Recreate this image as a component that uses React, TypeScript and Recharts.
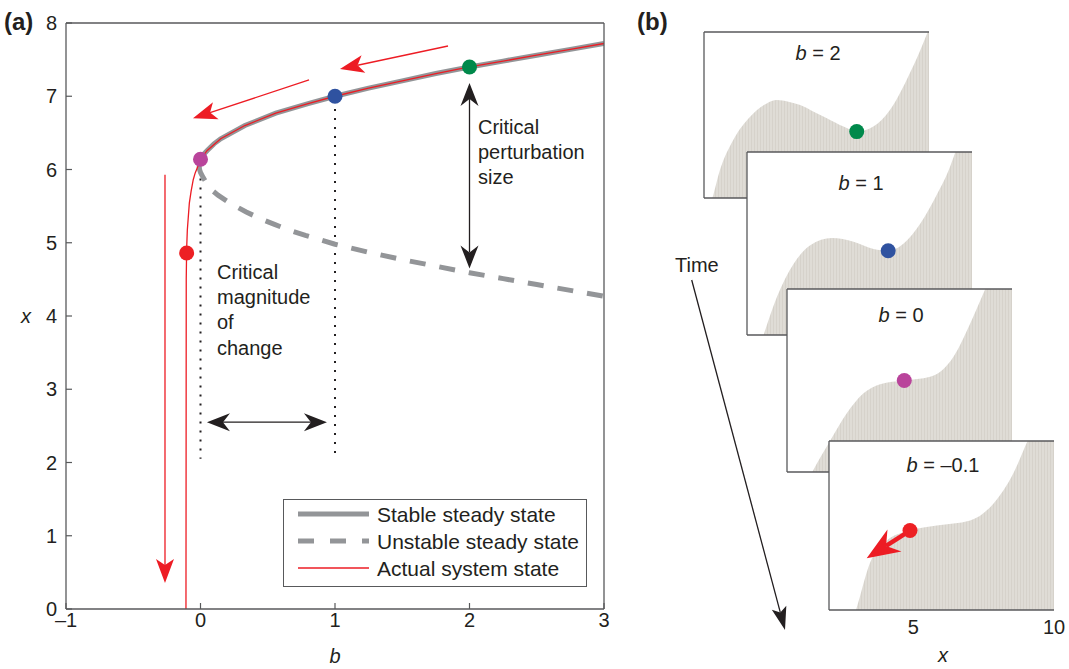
import React from 'react';
import {
  Area,
  Cell,
  ComposedChart,
  Legend,
  Line,
  ReferenceLine,
  Scatter,
  XAxis,
  YAxis,
} from 'recharts';

const FONT = 'Arial, "Liberation Sans", Helvetica, sans-serif';
const GRAY = '#939598';
const RED = '#ed1c24';
const INK = '#231f20';
const AXIS = '#58595b';

// ---- panel (a): bifurcation diagram ----
const bTicks = [-1, 0, 1, 2, 3];
const xTicks = [0, 1, 2, 3, 4, 5, 6, 7, 8];

const stableB = [-0.01, -0.007, 0, 0.02, 0.05, 0.1, 0.15, 0.33, 0.56, 0.8, 1, 1.25, 1.5, 1.75, 2, 2.25, 2.5, 2.75, 3];
const stableX = [6.05, 6.1, 6.14, 6.2, 6.26, 6.35, 6.42, 6.6, 6.77, 6.9, 7.0, 7.11, 7.21, 7.31, 7.4, 7.48, 7.56, 7.64, 7.72];

const unstableB = [-0.01, -0.007, 0, 0.02, 0.05, 0.09, 0.13, 0.22, 0.34, 0.455, 0.55, 0.665, 0.78, 0.89, 1, 1.25, 1.5, 1.75, 2, 2.25, 2.5, 2.75, 3];
const unstableX = [6.05, 6.0, 5.96, 5.89, 5.8, 5.71, 5.65, 5.54, 5.42, 5.32, 5.25, 5.17, 5.1, 5.04, 4.98, 4.87, 4.77, 4.68, 4.59, 4.51, 4.43, 4.35, 4.27];

const actualB = [3, 2.75, 2.5, 2.25, 2, 1.75, 1.5, 1.25, 1, 0.8, 0.56, 0.33, 0.15, 0.05, 0, -0.02, -0.04, -0.054, -0.07, -0.083, -0.098, -0.103, -0.106, -0.108];
const actualX = [7.72, 7.64, 7.56, 7.48, 7.4, 7.31, 7.21, 7.11, 7.0, 6.9, 6.77, 6.6, 6.42, 6.26, 6.14, 6.04, 5.95, 5.86, 5.7, 5.54, 5.17, 4.92, 4.5, 0];

const markerB = [2, 1, 0, -0.103];
const markerX = [7.4, 7.0, 6.14, 4.86];
const markerColors = ['#00894b', '#2f52a0', '#b9449b', '#ed2024'];

// guides: [b, xTop, xBottom]
const guides = [
  [0, 6.0, 2.05],
  [1, 6.95, 2.05],
];
// arrows: [b1, x1, b2, x2]
const redArrows = [
  [1.84, 7.686, 1.037, 7.372],
  [0.807, 7.222, -0.056, 6.7],
  [-0.264, 5.93, -0.264, 0.355],
];
const blackArrows = [
  [0.048, 2.55, 0.94, 2.55],
  [2, 4.65, 2, 7.18],
];

const legendItems = ['Stable steady state', 'Unstable steady state', 'Actual system state'];

// ---- panel (b): potential landscapes ----
const potX1 = [2, 2.3, 2.57, 3.04, 3.64, 4.23, 4.59, 5.0, 5.42, 5.9, 6.37, 6.96, 7.43, 8.02, 8.61, 9.2, 9.69, 10];
const potV1 = [-0.15, 0, 0.17, 0.35, 0.49, 0.57, 0.59, 0.58, 0.56, 0.52, 0.48, 0.43, 0.4, 0.43, 0.53, 0.71, 0.89, 1.02];
const potX2 = [2, 2.59, 3.07, 3.66, 4.25, 5.02, 5.79, 6.5, 7.02, 7.57, 8.17, 8.76, 9.17, 9.41, 9.7, 10];
const potV2 = [-0.3, 0, 0.21, 0.39, 0.49, 0.53, 0.51, 0.47, 0.46, 0.5, 0.61, 0.77, 0.9, 1.0, 1.12, 1.25];
const potX3 = [2, 2.9, 3.53, 4.12, 4.72, 5.31, 6.17, 7.09, 7.92, 8.51, 9.05, 9.5, 10];
const potV3 = [-0.3, 0, 0.17, 0.32, 0.43, 0.48, 0.5, 0.52, 0.63, 0.81, 1.0, 1.15, 1.3];
const potX4 = [2, 2.96, 3.46, 4.05, 4.88, 5.83, 7.02, 7.85, 8.56, 9.06, 9.5, 10];
const potV4 = [-0.4, 0, 0.28, 0.41, 0.47, 0.5, 0.53, 0.63, 0.81, 1.0, 1.15, 1.3];

const boxTitles = ['2', '1', '0', '\u20130.1'];
const ballX = [7.43, 7.02, 6.17, 4.88];
const ballV = [0.4, 0.46, 0.5, 0.47];
const kickArrow = [4.88, 0.47, 3.34, 0.306];
const potTicks = [5, 10];

const zip = (a: number[], b: number[], ka: string, kb: string) =>
  a.map((v, i) => ({ [ka]: v, [kb]: b[i] }));

type ArrowStyle = { color: string; width: number; len: number; half: number; notch: number; both?: boolean };

function headPoints(fx: number, fy: number, tx: number, ty: number, s: ArrowStyle) {
  const d = Math.hypot(tx - fx, ty - fy) || 1;
  const ux = (tx - fx) / d;
  const uy = (ty - fy) / d;
  const nx = -uy;
  const ny = ux;
  const bx = tx - ux * s.len;
  const by = ty - uy * s.len;
  const mx = tx - ux * (s.len - s.notch);
  const my = ty - uy * (s.len - s.notch);
  return `${tx},${ty} ${bx + nx * s.half},${by + ny * s.half} ${mx},${my} ${bx - nx * s.half},${by - ny * s.half}`;
}

const arrowShape = (s: ArrowStyle) => (p: any) => {
  const { x1, y1, x2, y2 } = p;
  const d = Math.hypot(x2 - x1, y2 - y1) || 1;
  const ux = (x2 - x1) / d;
  const uy = (y2 - y1) / d;
  const back = s.len - s.notch;
  const sx = s.both ? x1 + ux * back : x1;
  const sy = s.both ? y1 + uy * back : y1;
  return (
    <g>
      <line x1={sx} y1={sy} x2={x2 - ux * back} y2={y2 - uy * back} stroke={s.color} strokeWidth={s.width} />
      <polygon points={headPoints(x1, y1, x2, y2, s)} fill={s.color} />
      {s.both && <polygon points={headPoints(x2, y2, x1, y1, s)} fill={s.color} />}
    </g>
  );
};

const redArrow = arrowShape({ color: RED, width: 1.3, len: 24, half: 9, notch: 6 });
const blackArrow = arrowShape({ color: INK, width: 1.3, len: 23, half: 9, notch: 7, both: true });
const kickShape = arrowShape({ color: RED, width: 4.5, len: 33, half: 13, notch: 10 });

const dotShape = (r: number) => (p: any) => <circle cx={p.cx} cy={p.cy} r={r} fill={p.fill} />;

const fmtB = (v: number) => (v < 0 ? `\u2013${Math.abs(v)}` : `${v}`);

const axisLine = { stroke: AXIS, strokeWidth: 1.3 };
const tickLine = { stroke: AXIS, strokeWidth: 1.2 };

function Txt({ x, y, children, size = 20, italic = false, bold = false, center = false }: any) {
  return (
    <div
      style={{
        position: 'absolute',
        left: x,
        top: y,
        transform: `translate(${center ? '-50%' : '0'}, -50%)`,
        fontSize: size,
        fontStyle: italic ? 'italic' : 'normal',
        fontWeight: bold ? 700 : 400,
        lineHeight: 1,
        whiteSpace: 'nowrap',
        color: INK,
      }}
    >
      {children}
    </div>
  );
}

function LegendBox() {
  return (
    <div style={{ position: 'relative', width: 304, height: 88, border: `1px solid ${AXIS}`, boxSizing: 'border-box', background: '#fff', fontFamily: FONT }}>
      {legendItems.map((name, i) => (
        <div key={name} style={{ position: 'absolute', left: 0, top: 14 + i * 27, height: 0 }}>
          <svg width={90} height={10} style={{ position: 'absolute', left: 0, top: -5 }}>
            <line
              x1={14}
              x2={85}
              y1={5}
              y2={5}
              stroke={i === 2 ? RED : GRAY}
              strokeWidth={i === 2 ? 1.3 : 5}
              strokeDasharray={i === 1 ? '16 16' : undefined}
            />
          </svg>
          <div style={{ position: 'absolute', left: 93, top: 0, transform: 'translateY(-50%)', fontSize: 21, lineHeight: 1, whiteSpace: 'nowrap', color: INK }}>
            {name}
          </div>
        </div>
      ))}
    </div>
  );
}

function BifurcationPanel() {
  const tickStyle = { fill: INK, fontSize: 20, fontFamily: FONT };
  return (
    <ComposedChart width={620} height={669} margin={{ top: 22, right: 15, bottom: 10, left: 6 }}>
      <XAxis
        type="number"
        dataKey="b"
        domain={[-1, 3]}
        ticks={bTicks}
        tickFormatter={fmtB}
        allowDataOverflow
        height={50}
        tickSize={-6}
        tickMargin={10}
        axisLine={axisLine}
        tickLine={tickLine}
        tick={tickStyle}
      />
      <XAxis xAxisId="top" orientation="top" type="number" domain={[-1, 3]} ticks={bTicks} allowDataOverflow height={1} tickSize={-6} tick={false} axisLine={axisLine} tickLine={tickLine} />
      <YAxis type="number" domain={[0, 8]} ticks={xTicks} allowDataOverflow width={60} tickSize={-6} tickMargin={15} axisLine={axisLine} tickLine={tickLine} tick={tickStyle} />
      <YAxis yAxisId="right" orientation="right" type="number" domain={[0, 8]} ticks={xTicks} allowDataOverflow width={1} tickSize={-6} tick={false} axisLine={axisLine} tickLine={tickLine} />

      {guides.map(([b, top, bottom], i) => (
        <ReferenceLine
          key={`g${i}`}
          segment={[{ x: b, y: top }, { x: b, y: bottom }]}
          stroke={INK}
          strokeWidth={2}
          strokeDasharray="2 7"
          ifOverflow="visible"
        />
      ))}

      <Line data={zip(unstableB, unstableX, 'b', 'x')} dataKey="x" type="linear" stroke={GRAY} strokeWidth={5} strokeDasharray="16 14" dot={false} activeDot={false} isAnimationActive={false} />
      <Line data={zip(stableB, stableX, 'b', 'x')} dataKey="x" type="linear" stroke={GRAY} strokeWidth={5} dot={false} activeDot={false} isAnimationActive={false} />
      <Line data={zip(actualB, actualX, 'b', 'x')} dataKey="x" type="linear" stroke={RED} strokeWidth={1.3} dot={false} activeDot={false} isAnimationActive={false} />

      {redArrows.map(([b1, x1, b2, x2], i) => (
        <ReferenceLine key={`r${i}`} segment={[{ x: b1, y: x1 }, { x: b2, y: x2 }]} shape={redArrow} ifOverflow="visible" />
      ))}
      {blackArrows.map(([b1, x1, b2, x2], i) => (
        <ReferenceLine key={`k${i}`} segment={[{ x: b1, y: x1 }, { x: b2, y: x2 }]} shape={blackArrow} ifOverflow="visible" />
      ))}

      <Scatter data={zip(markerB, markerX, 'b', 'x')} dataKey="x" shape={dotShape(7.5)} isAnimationActive={false}>
        {markerColors.map((c) => (
          <Cell key={c} fill={c} />
        ))}
      </Scatter>

      <Legend
        layout="vertical"
        align="center"
        verticalAlign="middle"
        content={() => <LegendBox />}
        wrapperStyle={{ left: 283, top: 499, width: 304, height: 88 }}
      />
    </ComposedChart>
  );
}

const BOX_W = 225;

function PotentialBox({ idx, left, top, height, xs, vs, titleDy, last = false }: any) {
  const data = zip(xs, vs, 'x', 'v');
  const ball = [{ x: ballX[idx], v: ballV[idx] }];
  const padR = last ? 16 : 0;
  return (
    <div style={{ position: 'absolute', left, top, width: BOX_W, height }}>
      <div style={{ position: 'absolute', left: 0, top: 0, width: BOX_W, height, background: '#fff' }} />
      <div style={{ position: 'absolute', left: -1, top: -1 }}>
        <ComposedChart
          width={BOX_W + 1 + padR}
          height={height + (last ? 60 : 2)}
          margin={{ top: 0, left: 0, right: padR, bottom: 0 }}
        >
          <defs>
            <pattern id={`stripe${idx}`} width={3} height={8} patternUnits="userSpaceOnUse">
              <rect width={3} height={8} fill="#dfdcd6" />
              <rect width={1} height={8} fill="#d6d2cb" />
            </pattern>
          </defs>
          <XAxis
            type="number"
            dataKey="x"
            domain={[2, 10]}
            ticks={potTicks}
            allowDataOverflow
            height={last ? 59 : 1}
            tickLine={false}
            tickSize={0}
            tickMargin={10}
            axisLine={axisLine}
            tick={last ? { fill: INK, fontSize: 20, fontFamily: FONT } : false}
          />
          <XAxis xAxisId="top" orientation="top" type="number" domain={[2, 10]} ticks={[5]} allowDataOverflow height={1} tickSize={-5} tick={false} axisLine={axisLine} tickLine={tickLine} />
          <YAxis type="number" domain={[0, 1]} allowDataOverflow width={1} tick={false} tickLine={false} axisLine={axisLine} />
          <Area data={data} dataKey="v" type="monotone" baseValue={0} stroke="none" fill={`url(#stripe${idx})`} fillOpacity={1} dot={false} activeDot={false} isAnimationActive={false} />
          {last && (
            <ReferenceLine segment={[{ x: kickArrow[0], y: kickArrow[1] }, { x: kickArrow[2], y: kickArrow[3] }]} shape={kickShape} ifOverflow="visible" />
          )}
          <Scatter data={ball} dataKey="v" shape={dotShape(7.5)} isAnimationActive={false}>
            <Cell fill={markerColors[idx]} />
          </Scatter>
        </ComposedChart>
      </div>
      <Txt x={114} y={titleDy} center>
        <i>b</i> = {boxTitles[idx]}
      </Txt>
    </div>
  );
}

function TimeArrow() {
  const s: ArrowStyle = { color: INK, width: 1.3, len: 23, half: 7.5, notch: 5 };
  const shape = arrowShape(s);
  return (
    <svg width={1069} height={669} style={{ position: 'absolute', left: 0, top: 0, pointerEvents: 'none' }}>
      {shape({ x1: 691.7, y1: 280, x2: 785, y2: 630 })}
    </svg>
  );
}

export default function App() {
  return (
    <div style={{ position: 'absolute', left: 0, top: 0, width: 1069, height: 669, background: '#fff', fontFamily: FONT, color: INK, overflow: 'hidden' }}>
      <div style={{ position: 'absolute', left: 0, top: 0 }}>
        <BifurcationPanel />
      </div>

      <Txt x={4} y={22} size={24} bold>(a)</Txt>
      <Txt x={26} y={316} italic center>x</Txt>
      <Txt x={335} y={656} italic center>b</Txt>
      <Txt x={478} y={127}>Critical</Txt>
      <Txt x={478} y={152}>perturbation</Txt>
      <Txt x={478} y={177}>size</Txt>
      <Txt x={217} y={272}>Critical</Txt>
      <Txt x={217} y={297}>magnitude</Txt>
      <Txt x={217} y={322}>of</Txt>
      <Txt x={217} y={348}>change</Txt>

      <Txt x={637} y={22} size={24} bold>(b)</Txt>
      <PotentialBox idx={0} left={704} top={32} height={166} xs={potX1} vs={potV1} titleDy={21} />
      <PotentialBox idx={1} left={747} top={152} height={183} xs={potX2} vs={potV2} titleDy={31} />
      <PotentialBox idx={2} left={787} top={289} height={183} xs={potX3} vs={potV3} titleDy={26} />
      <PotentialBox idx={3} left={829} top={441} height={169} xs={potX4} vs={potV4} titleDy={24} last />
      <Txt x={675} y={265}>Time</Txt>
      <Txt x={943} y={655} italic center>x</Txt>
      <TimeArrow />
    </div>
  );
}
